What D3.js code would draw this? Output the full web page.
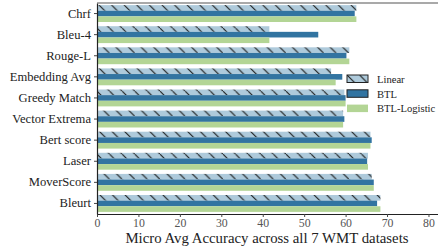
<!DOCTYPE html>
<html>
<head>
<meta charset="utf-8">
<script src="https://cdn.jsdelivr.net/npm/d3@7"></script>
<style>
  body { margin: 0; background: #fff; }
</style>
</head>
<body>
<div id="chart"></div>
<script>
// metrics (top to bottom) and accuracies
const metrics = ["Chrf", "Bleu-4", "Rouge-L", "Embedding Avg", "Greedy Match", "Vector Extrema",
  "Bert score", "Laser", "MoverScore", "Bleurt"];
const seriesNames = ["Linear", "BTL", "BTL-Logistic"];
const linear = [62.6, 41.6, 60.9, 56.5, 59.7, 59.4, 66.0, 65.4, 66.3, 68.4];
const btl = [62.2, 53.4, 60.2, 59.2, 60.0, 59.7, 66.3, 65.2, 66.8, 67.6];
const btlLogistic = [62.6, 41.6, 60.9, 57.6, 60.0, 59.4, 66.0, 65.4, 66.8, 68.4];
const xTicks = [0, 10, 20, 30, 40, 50, 60, 70, 80];

const colors = ["#aecadb", "#3274a1", "#b3d595"];
const allSeries = [linear, btl, btlLogistic];

const W = 438, H = 246;
const margin = {top: 3, right: 0, bottom: 32, left: 97};
const width = W - margin.left - margin.right;
const height = H - margin.top - margin.bottom;
const serif = "'Liberation Serif'";

const svg = d3.select("#chart").append("svg")
  .attr("width", W).attr("height", H);

// hatch pattern for Linear
const defs = svg.append("defs");
const pat = defs.append("pattern")
  .attr("id", "hatch")
  .attr("patternUnits", "userSpaceOnUse")
  .attr("width", 12.6).attr("height", 12.6);
pat.append("rect").attr("width", 12.6).attr("height", 12.6).attr("fill", colors[0]);
pat.append("path").attr("d", "M-3,-3 L15.6,15.6")
  .attr("stroke", "#111").attr("stroke-width", 1);

const g = svg.append("g").attr("transform", `translate(${margin.left},${margin.top})`);

const x = d3.scaleLinear().domain([0, 82.3]).range([0, width]);
const y = d3.scaleBand().domain(metrics).range([0, height]).paddingInner(0.2).paddingOuter(0.1);
const ySub = d3.scaleBand().domain(seriesNames).range([0, y.bandwidth()]);

// bars
seriesNames.forEach(function (s, si) {
  g.selectAll(".bar-" + si)
    .data(metrics)
    .enter().append("rect")
    .attr("class", "bar-" + si)
    .attr("x", 0)
    .attr("y", function (d) { return y(d) + ySub(s); })
    .attr("height", ySub.bandwidth())
    .attr("width", function (d, i) { return x(allSeries[si][i]); })
    .attr("fill", si === 0 ? "url(#hatch)" : colors[si]);
});

// axes
const xAxis = g.append("g")
  .attr("transform", `translate(0,${height})`)
  .call(d3.axisBottom(x).tickValues(xTicks).tickSize(3).tickSizeOuter(0));
xAxis.select(".domain").attr("stroke", "#222").attr("stroke-width", 1.2);
xAxis.selectAll(".tick line").attr("stroke", "#444");
xAxis.selectAll("text")
  .style("font-family", serif).style("font-size", "11.8px")
  .attr("fill", "#555").attr("y", 5);

const yAxis = g.append("g")
  .call(d3.axisLeft(y).tickSize(3).tickSizeOuter(0));
yAxis.select(".domain").attr("stroke", "#222").attr("stroke-width", 1.2);
yAxis.selectAll(".tick line").attr("stroke", "#444");
yAxis.selectAll("text")
  .style("font-family", serif).style("font-size", "12.6px")
  .attr("fill", "#222");

// top spine
g.append("line").attr("x1", 0).attr("x2", width).attr("y1", 0).attr("y2", 0)
  .attr("stroke", "#555").attr("stroke-width", 1.2);

// x title
svg.append("text")
  .attr("x", 267).attr("y", 242.5)
  .attr("text-anchor", "middle")
  .style("font-family", serif).style("font-size", "14.8px")
  .attr("fill", "#222")
  .text("Micro Avg Accuracy across all 7 WMT datasets");

// legend
const legend = svg.append("g").attr("transform", "translate(347,75)");
seriesNames.forEach(function (s, i) {
  const row = legend.append("g").attr("transform", `translate(0,${i * 14.8})`);
  row.append("rect").attr("width", 21).attr("height", 7.5)
    .attr("fill", i === 0 ? "url(#hatch)" : colors[i])
    .attr("stroke", i < 2 ? "#222" : "none").attr("stroke-width", 1);
  row.append("text").attr("x", 30).attr("y", 4).attr("dy", "0.35em")
    .style("font-family", serif).style("font-size", "10.6px")
    .attr("fill", "#222").text(s);
});
</script>
</body>
</html>
